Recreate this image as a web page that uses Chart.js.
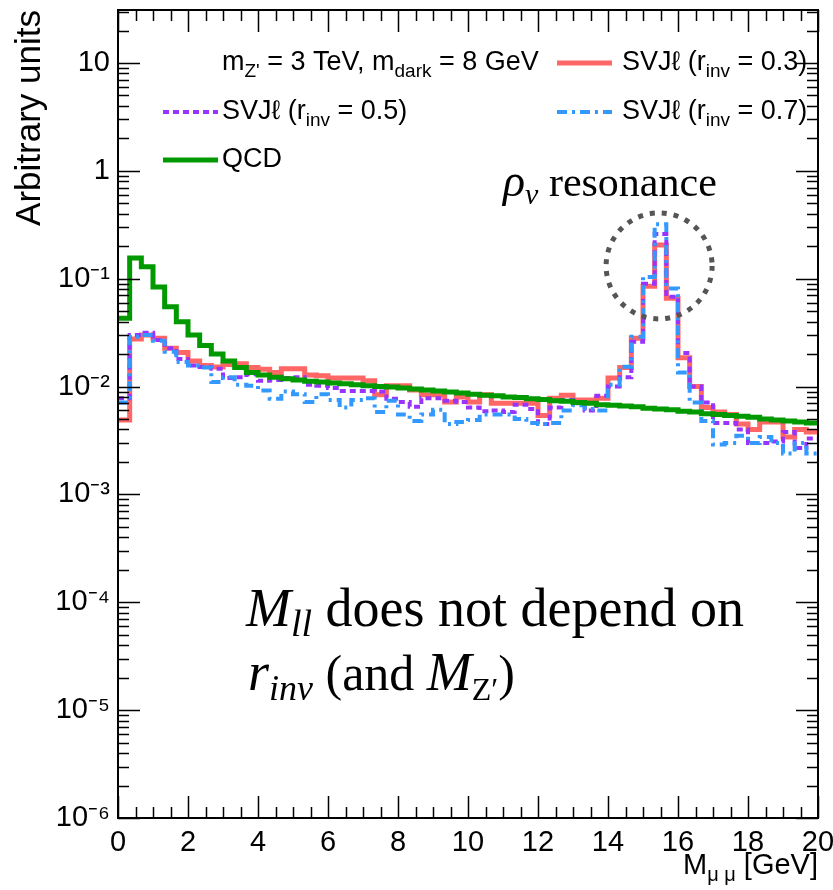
<!DOCTYPE html>
<html>
<head>
<meta charset="utf-8">
<script src="https://cdn.jsdelivr.net/npm/chart.js@4.4.0/dist/chart.umd.min.js"></script>
<style>
  html, body { margin: 0; padding: 0; background: #fff; }
  canvas { display: block; }
</style>
</head>
<body>
<canvas id="chart" width="833" height="890"></canvas>
<script>
// axis ranges and ticks
const xMin = 0, xMax = 20;
const yMin = 1e-6, yMax = 31;
const xMajorTicks = [0, 2, 4, 6, 8, 10, 12, 14, 16, 18, 20];
const xMinorStep = 0.5;
const yDecades = [1e-6, 1e-5, 1e-4, 1e-3, 1e-2, 1e-1, 1, 10];
const yDecadeLabels = ['10\u207B\u2076', '10\u207B\u2075', '10\u207B\u2074', '10\u207B\u00B3', '10\u207B\u00B2', '10\u207B\u00B9', '1', '10'];

// M_mumu histograms, 60 bins of 1/3 GeV between 0 and 20 GeV
const qcd = [0.043, 0.156, 0.129, 0.084, 0.055, 0.040, 0.030, 0.024, 0.020, 0.0173,
  0.015, 0.0135, 0.0128, 0.0122, 0.0118, 0.0115, 0.0112, 0.0110, 0.0108, 0.0106,
  0.0104, 0.0102, 0.0100, 0.0099, 0.0097, 0.0095, 0.0093, 0.0091, 0.0089, 0.0087,
  0.0085, 0.0083, 0.0082, 0.0080, 0.0079, 0.0077, 0.0076, 0.0074, 0.0073, 0.0071,
  0.0070, 0.0068, 0.0067, 0.0066, 0.0065, 0.0063, 0.0062, 0.0061, 0.0059, 0.0058,
  0.0056, 0.0055, 0.0054, 0.0053, 0.0052, 0.0050, 0.0049, 0.0048, 0.0047, 0.0046];

const svjRinv03 = [0.0049, 0.0276, 0.030, 0.028, 0.0227, 0.0207, 0.0173, 0.0157, 0.0152, 0.016,
  0.0163, 0.015, 0.0145, 0.0135, 0.0146, 0.0146, 0.0128, 0.0126, 0.012, 0.012,
  0.012, 0.0113, 0.0084, 0.0102, 0.0102, 0.0093, 0.0084, 0.0084, 0.0072, 0.008,
  0.0072, 0.0084, 0.0070, 0.0070, 0.0070, 0.0070, 0.0054, 0.0078, 0.0083, 0.0075,
  0.0075, 0.0078, 0.012, 0.015, 0.028, 0.085, 0.205, 0.066, 0.0185, 0.010,
  0.0064, 0.0058, 0.0055, 0.0045, 0.0040, 0.0047, 0.0047, 0.0034, 0.0040, 0.0038];

const svjRinv05 = [0.0078, 0.030, 0.0315, 0.027, 0.0227, 0.018, 0.0157, 0.0152, 0.0146, 0.012,
  0.0122, 0.013, 0.0113, 0.0115, 0.012, 0.0122, 0.0104, 0.0102, 0.0097, 0.0091,
  0.0091, 0.0091, 0.009, 0.0077, 0.0072, 0.0065, 0.0078, 0.0078, 0.0074, 0.0072,
  0.0064, 0.0059, 0.0060, 0.0058, 0.0068, 0.0062, 0.0045, 0.0064, 0.0075, 0.0070,
  0.0060, 0.0082, 0.010, 0.0122, 0.026, 0.09, 0.26, 0.068, 0.0205, 0.010,
  0.0071, 0.0046, 0.0046, 0.004, 0.003, 0.003, 0.0031, 0.0038, 0.0027, 0.0033];

const svjRinv07 = [0.0071, 0.029, 0.030, 0.0266, 0.021, 0.0169, 0.0157, 0.015, 0.011, 0.0122,
  0.0104, 0.0102, 0.0092, 0.0077, 0.009, 0.0085, 0.0072, 0.0085, 0.0075, 0.0064,
  0.0075, 0.0078, 0.0058, 0.0074, 0.0055, 0.0048, 0.0055, 0.0061, 0.0045, 0.0047,
  0.0049, 0.0055, 0.0055, 0.0055, 0.0050, 0.0046, 0.0045, 0.0046, 0.0060, 0.0067,
  0.0062, 0.0060, 0.0104, 0.0153, 0.029, 0.104, 0.32, 0.081, 0.0135, 0.0071,
  0.0048, 0.0029, 0.0030, 0.0035, 0.0030, 0.0034, 0.0030, 0.0024, 0.0030, 0.0024];

// resonance marker (data coords)
const resonanceX = 15.46, resonanceY = 0.1315;

const sansFont = "'Liberation Sans', Arial, sans-serif";
const serifFont = "'Liberation Serif', 'Times New Roman', serif";

// histogram -> step points (low edges + closing point)
function toSteps(values) {
    const w = (xMax - xMin) / values.length;
    const pts = values.map((v, i) => ({ x: xMin + i * w, y: v }));
    pts.push({ x: xMax, y: values[values.length - 1] });
    return pts;
}

function histDataset(label, values, color, width, dash, order) {
    return {
        label: label,
        data: toSteps(values),
        borderColor: color,
        borderWidth: width,
        borderDash: dash,
        stepped: 'before',
        fill: false,
        pointRadius: 0,
        order: order
    };
}

// draw a string made of pieces, some of them subscripts
function drawRich(ctx, x, y, parts) {
    let cx = x;
    parts.forEach(p => {
        ctx.font = p.font;
        ctx.fillText(p.t, cx, y + (p.dy || 0));
        cx += ctx.measureText(p.t).width;
    });
    return cx;
}

const decorPlugin = {
    id: 'decor',
    afterDatasetsDraw(chart) {
        const { ctx, chartArea: a, scales: { x, y } } = chart;
        ctx.save();

        // frame
        ctx.strokeStyle = '#000';
        ctx.lineWidth = 2;
        ctx.strokeRect(a.left, a.top, a.right - a.left, a.bottom - a.top);

        // ticks on all four sides
        ctx.lineWidth = 1.5;
        ctx.beginPath();
        for (let v = xMin; v <= xMax + 1e-9; v += xMinorStep) {
            const px = Math.round(x.getPixelForValue(v)) + 0.5;
            const len = xMajorTicks.includes(Math.round(v * 10) / 10) ? 22 : 11;
            ctx.moveTo(px, a.bottom); ctx.lineTo(px, a.bottom - len);
            ctx.moveTo(px, a.top); ctx.lineTo(px, a.top + len);
        }
        yDecades.forEach(d => {
            for (let m = 1; m <= 9; m++) {
                const v = d * m;
                if (v > yMax) break;
                const py = Math.round(y.getPixelForValue(v)) + 0.5;
                const len = m === 1 ? 22 : 11;
                ctx.moveTo(a.left, py); ctx.lineTo(a.left + len, py);
                ctx.moveTo(a.right, py); ctx.lineTo(a.right - len, py);
            }
        });
        ctx.stroke();

        // resonance circle
        ctx.strokeStyle = '#555';
        ctx.lineWidth = 5;
        ctx.setLineDash([5, 7]);
        ctx.beginPath();
        ctx.arc(x.getPixelForValue(resonanceX), y.getPixelForValue(resonanceY), 53, 0, Math.PI * 2);
        ctx.stroke();
        ctx.setLineDash([]);

        // legend
        const ds = chart.data.datasets;
        const leg = (d, x0, yy) => {
            ctx.strokeStyle = d.borderColor;
            ctx.lineWidth = d.borderWidth;
            ctx.setLineDash(d.borderDash || []);
            ctx.beginPath();
            ctx.moveTo(x0, yy); ctx.lineTo(x0 + 55, yy);
            ctx.stroke();
            ctx.setLineDash([]);
        };
        const f = size => size + 'px ' + sansFont;
        ctx.fillStyle = '#000';
        ctx.textBaseline = 'middle';
        ctx.textAlign = 'left';
        const svj = (val, x0, yy) => drawRich(ctx, x0, yy, [
            { t: 'SVJ\u2113 (r', font: f(27) },
            { t: 'inv', font: f(19), dy: 9 },
            { t: ' = ' + val + ')', font: f(27) }
        ]);
        drawRich(ctx, 222, 63, [
            { t: 'm', font: f(27) },
            { t: "Z'", font: f(19), dy: 9 },
            { t: ' = 3 TeV, m', font: f(27) },
            { t: 'dark', font: f(19), dy: 9 },
            { t: ' = 8 GeV', font: f(27) }
        ]);
        leg(ds[0], 557, 63); svj('0.3', 622, 63);
        leg(ds[1], 163, 112); svj('0.5', 222, 112);
        leg(ds[2], 557, 112); svj('0.7', 622, 112);
        leg(ds[3], 163, 160);
        drawRich(ctx, 222, 160, [{ t: 'QCD', font: f(27) }]);

        // annotations
        ctx.textBaseline = 'alphabetic';
        const it = s => 'italic ' + s + 'px ' + serifFont;
        const rm = s => s + 'px ' + serifFont;
        drawRich(ctx, 503, 196, [
            { t: '\u03C1', font: it(46) },
            { t: 'v', font: it(30), dy: 8 },
            { t: ' resonance', font: rm(42) }
        ]);
        drawRich(ctx, 246, 626, [
            { t: 'M', font: it(54) },
            { t: 'll', font: it(38), dy: 10 },
            { t: ' does not depend on', font: rm(54) }
        ]);
        drawRich(ctx, 248, 690, [
            { t: 'r', font: it(54) },
            { t: 'inv', font: it(36), dy: 10 },
            { t: ' (and ', font: rm(50) },
            { t: 'M', font: it(54) },
            { t: 'Z\u2032', font: rm(32), dy: 10 },
            { t: ')', font: rm(50) }
        ]);

        // x axis title
        const parts = [
            { t: 'M', font: f(29) },
            { t: '\u03BC \u03BC', font: f(20), dy: 7 },
            { t: ' [GeV]', font: f(29) }
        ];
        let w = 0;
        parts.forEach(p => { ctx.font = p.font; w += ctx.measureText(p.t).width; });
        drawRich(ctx, a.right - w, 874, parts);

        ctx.restore();
    }
};

const ctx = document.getElementById('chart').getContext('2d');
new Chart(ctx, {
    type: 'line',
    data: {
        datasets: [
            histDataset('SVJl (r_inv = 0.3)', svjRinv03, '#ff6666', 5, [], 4),
            histDataset('SVJl (r_inv = 0.5)', svjRinv05, '#9933ff', 4, [6, 4], 3),
            histDataset('SVJl (r_inv = 0.7)', svjRinv07, '#3399ff', 4, [10, 5, 3, 5], 2),
            histDataset('QCD', qcd, '#009900', 5, [], 1)
        ]
    },
    options: {
        responsive: false,
        animation: false,
        layout: { padding: { top: 10, right: 15, left: 0, bottom: 0 } },
        plugins: {
            legend: { display: false },
            tooltip: { enabled: false }
        },
        scales: {
            x: {
                type: 'linear',
                min: xMin,
                max: xMax,
                grid: { display: false, drawTicks: false },
                border: { display: false },
                afterBuildTicks: s => { s.ticks = xMajorTicks.map(v => ({ value: v })); },
                afterFit: s => {
                    s.height = 72;
                    s.paddingLeft = 0; s.paddingRight = 0;
                    s.paddingTop = 0; s.paddingBottom = 0;
                },
                ticks: {
                    autoSkip: false,
                    maxRotation: 0,
                    padding: 8,
                    color: '#000',
                    font: { family: sansFont, size: 29 },
                    callback: v => String(v)
                }
            },
            y: {
                type: 'logarithmic',
                min: yMin,
                max: yMax,
                grid: { display: false, drawTicks: false },
                border: { display: false },
                afterBuildTicks: s => { s.ticks = yDecades.map(v => ({ value: v })); },
                afterFit: s => {
                    s.width = 118;
                    s.paddingLeft = 0; s.paddingRight = 0;
                    s.paddingTop = 0; s.paddingBottom = 0;
                },
                ticks: {
                    autoSkip: false,
                    padding: 8,
                    color: '#000',
                    font: { family: sansFont, size: 29 },
                    callback: (v, i) => yDecadeLabels[i]
                },
                title: {
                    display: true,
                    text: 'Arbitrary units',
                    align: 'end',
                    color: '#000',
                    font: { family: sansFont, size: 35 },
                    padding: { top: 9, bottom: 0 }
                }
            }
        }
    },
    plugins: [decorPlugin]
});
</script>
</body>
</html>
